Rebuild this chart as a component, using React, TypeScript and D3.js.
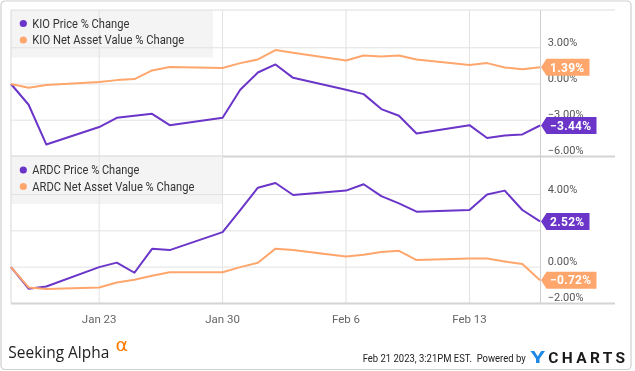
import React, { useEffect, useRef } from 'react';
import * as d3 from 'd3';

const dates = [
  '2023-01-18', '2023-01-19', '2023-01-20',
  '2023-01-23', '2023-01-24', '2023-01-25', '2023-01-26', '2023-01-27',
  '2023-01-30', '2023-01-31', '2023-02-01', '2023-02-02', '2023-02-03',
  '2023-02-06', '2023-02-07', '2023-02-08', '2023-02-09', '2023-02-10',
  '2023-02-13', '2023-02-14', '2023-02-15', '2023-02-16', '2023-02-17',
];
const kioPrice = [0, -1.72, -5.01, -3.57, -2.8, -2.64, -2.47, -3.41, -2.8, -0.48, 0.95, 1.62, 0.51, -0.48, -0.84, -2.08, -2.63, -4.1, -3.41, -4.48, -4.27, -4.18, -3.44];
const kioNav = [0, -0.31, -0.09, 0.16, 0.32, 0.41, 1.12, 1.4, 1.32, 1.73, 2.03, 2.81, 2.58, 1.95, 2.36, 2.28, 2.36, 2.03, 1.57, 1.73, 1.37, 1.23, 1.39];
const ardcPrice = [0, -1.19, -1.07, 0.0, 0.25, -0.31, 1.01, 0.94, 1.93, 3.15, 4.38, 4.64, 3.98, 4.22, 4.57, 3.92, 3.52, 3.06, 3.15, 4.0, 4.22, 3.15, 2.52];
const ardcNav = [0, -1.12, -1.21, -1.12, -0.85, -0.7, -0.48, -0.28, -0.28, 0.0, 0.24, 1.02, 0.94, 0.58, 0.68, 0.83, 0.9, 0.39, 0.47, 0.47, 0.31, 0.17, -0.72];
const xTickDates = ['2023-01-23', '2023-01-30', '2023-02-06', '2023-02-13'];
const xTickLabels = ['Jan 23', 'Jan 30', 'Feb 6', 'Feb 13'];
const topTicks = [-6, -3, 0, 3];
const bottomTicks = [-2, 0, 2, 4];
const topLegend = ['KIO Price % Change', 'KIO Net Asset Value % Change'];
const bottomLegend = ['ARDC Price % Change', 'ARDC Net Asset Value % Change'];

const PURPLE = '#6a35c8';
const ORANGE = '#ffa66c';
const FONT = 'Roboto, "Noto Sans", sans-serif';

export default function App() {
  const ref = useRef<SVGSVGElement>(null);

  useEffect(() => {
    const svg = d3.select(ref.current);
    svg.selectAll('*').remove();
    const parse = d3.timeParse('%Y-%m-%d');
    const ds = dates.map((d) => parse(d) as Date);

    const x = d3.scaleTime().domain([ds[0], ds[ds.length - 1]]).range([11, 540]);
    const plotL = 11, plotR = 540.5, axisR = 615;

    // outer border
    svg.append('rect').attr('x', 1).attr('y', 1).attr('width', 630).attr('height', 368.5)
      .attr('rx', 4).attr('fill', '#fff').attr('stroke', '#cfcfcf').attr('stroke-width', 1.2);

    const panels = [
      { top: 10, y: d3.scaleLinear().domain([-6, 6.13]).range([156.4, 10]), ticks: topTicks, legend: topLegend, legendW: 202,
        series: [{ v: kioPrice, c: PURPLE }, { v: kioNav, c: ORANGE }], legendLens: [97, 152] },
      { top: 156.5, y: d3.scaleLinear().domain([-2, 6.09]).range([303.4, 156.7]), ticks: bottomTicks, legend: bottomLegend, legendW: 212,
        series: [{ v: ardcPrice, c: PURPLE }, { v: ardcNav, c: ORANGE }], legendLens: [107, 162] },
    ];

    panels.forEach((p, pi) => {
      const g = svg.append('g');
      const bottom = p.y(p.ticks[0]);
      // legend background
      g.append('rect').attr('x', plotL).attr('y', p.top).attr('width', p.legendW).attr('height', 47.5)
        .attr('fill', '#f4f4f4');
      // vertical gridlines
      xTickDates.forEach((d) => {
        const xx = x(parse(d) as Date);
        g.append('line').attr('x1', xx).attr('x2', xx).attr('y1', p.top).attr('y2', bottom)
          .attr('stroke', '#e2e2e2').attr('stroke-width', 1);
      });
      // horizontal gridlines
      p.ticks.slice(1).forEach((t) => {
        g.append('line').attr('x1', plotL).attr('x2', plotR).attr('y1', p.y(t)).attr('y2', p.y(t))
          .attr('stroke', '#e2e2e2').attr('stroke-width', 1);
      });
      // left & right borders
      g.append('line').attr('x1', plotL).attr('x2', plotL).attr('y1', p.top).attr('y2', bottom)
        .attr('stroke', '#d8d8d8').attr('stroke-width', 1);
      g.append('line').attr('x1', plotR).attr('x2', plotR).attr('y1', p.top).attr('y2', bottom)
        .attr('stroke', '#cfcfcf').attr('stroke-width', 1);
      if (pi === 0) {
        g.append('line').attr('x1', plotL).attr('x2', axisR).attr('y1', p.top).attr('y2', p.top)
          .attr('stroke', '#dedede').attr('stroke-width', 1);
      }
      // bottom axis line
      g.append('line').attr('x1', plotL).attr('x2', axisR).attr('y1', bottom).attr('y2', bottom)
        .attr('stroke', '#d4d4d4').attr('stroke-width', 2);

      // legend
      p.legend.forEach((txt, i) => {
        const ly = p.top + 13.5 + i * 16.5;
        g.append('circle').attr('cx', 23.3).attr('cy', ly).attr('r', 3.6).attr('fill', p.series[i].c);
        g.append('text').attr('x', 32.3).attr('y', ly + 4.2).text(txt)
          .attr('font-family', FONT).attr('font-size', 12).attr('fill', '#333')
          .attr('textLength', p.legendLens[i]).attr('lengthAdjust', 'spacingAndGlyphs');
      });

      // lines
      const line = d3.line<number>().x((_, i) => x(ds[i])).y((v) => p.y(v));
      p.series.forEach((s) => {
        g.append('path').attr('d', line(s.v) as string).attr('fill', 'none')
          .attr('stroke', s.c).attr('stroke-width', 2).attr('stroke-linejoin', 'round');
      });

      // y tick labels (skip ones fully hidden behind a callout, as in the reference)
      const lastYs = p.series.map((s) => p.y(s.v[s.v.length - 1]));
      p.ticks.forEach((t) => {
        const cy = p.y(t) - 6;
        if (lastYs.some((ly) => Math.abs(ly - cy) < 6)) return;
        g.append('text').attr('x', 547.7).attr('y', p.y(t) - 2).text(d3.format('.2f')(t) + '%')
          .attr('font-family', FONT).attr('font-size', 11).attr('fill', '#555');
      });

      // callouts
      p.series.forEach((s) => {
        const v = s.v[s.v.length - 1];
        const cy = p.y(v);
        const label = d3.format('.2f')(v) + '%';
        const tip = plotR + 0.5;
        const txt = g.append('text').attr('x', tip + 9).attr('y', cy + 4.3).text(label)
          .attr('font-family', FONT).attr('font-size', 12).attr('font-weight', 'bold')
          .attr('fill', '#fff').attr('letter-spacing', 0.3);
        const w = (txt.node() as SVGTextElement).getComputedTextLength();
        const right = tip + 9 + w + 5;
        const h = 8.5;
        g.insert('path', () => txt.node() as any)
          .attr('d', `M${tip},${cy} L${tip + 5.5},${cy - h} L${right},${cy - h} L${right},${cy + h} L${tip + 5.5},${cy + h} Z`)
          .attr('fill', s.c);
      });
    });

    // x axis labels
    xTickDates.forEach((d, i) => {
      svg.append('text').attr('x', x(parse(d) as Date)).attr('y', 323).attr('text-anchor', 'middle')
        .text(xTickLabels[i]).attr('font-family', FONT).attr('font-size', 11.5).attr('fill', '#666');
    });

    // footer
    svg.append('text').attr('x', 8.3).attr('y', 357.5).text('Seeking Alpha')
      .attr('font-family', '"Open Sans", Lato, sans-serif').attr('font-size', 17).attr('fill', '#222')
      .attr('textLength', 101).attr('lengthAdjust', 'spacingAndGlyphs');
    svg.append('text').attr('x', 115.5).attr('y', 351).text('α')
      .attr('font-family', '"DejaVu Sans", sans-serif').attr('font-size', 18).attr('fill', '#ff7a00')
      .attr('textLength', 12.5).attr('lengthAdjust', 'spacingAndGlyphs');
    svg.append('text').attr('x', 362.7).attr('y', 362.3).text('Feb 21 2023, 3:21PM EST.  Powered by')
      .attr('font-family', FONT).attr('font-size', 10.5).attr('fill', '#222')
      .attr('textLength', 163).attr('lengthAdjust', 'spacingAndGlyphs').style('white-space', 'pre');
    svg.append('text').attr('x', 530.5).attr('y', 362.5).text('Y')
      .attr('font-family', FONT).attr('font-size', 16).attr('font-weight', 'bold').attr('fill', '#1e88e5')
      .attr('textLength', 14.5).attr('lengthAdjust', 'spacingAndGlyphs');
    svg.append('text').attr('x', 548.3).attr('y', 362.5).text('CHARTS')
      .attr('font-family', FONT).attr('font-size', 15.5).attr('font-weight', 'bold').attr('fill', '#1a1a1a')
      .attr('textLength', 76.7).attr('lengthAdjust', 'spacing');
  }, []);

  return (
    <div style={{ position: 'fixed', left: 0, top: 0 }}>
      <svg ref={ref} width={635} height={371} style={{ display: 'block' }} />
    </div>
  );
}
